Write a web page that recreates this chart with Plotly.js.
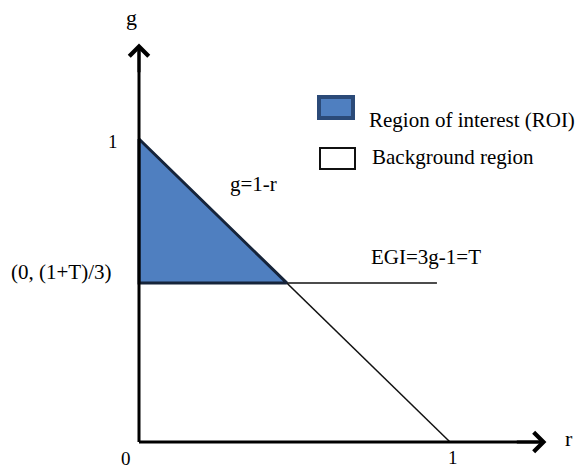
<!DOCTYPE html>
<html><head><meta charset="utf-8">
<script src="https://cdn.plot.ly/plotly-3.0.1.min.js"></script>
<style>html,body{margin:0;padding:0;background:#fff}#plot{width:584px;height:468px}</style>
</head><body><div id="plot"></div>
<script>
// data
var roiR = [0, 0, 0.475, 0];
var roiG = [1, 0.525, 0.525, 1];
var boundaryR = [0, 1];
var boundaryG = [1, 0];
var thresholdR = [0, 0.958];
var thresholdG = [0.525, 0.525];
var axisEnd = {r: 1.31, g: 1.315};
var legendLabels = ["Region of interest (ROI)", "Background region"];
var F = "Liberation Serif, Times New Roman, serif";

var traces = [
  {x: boundaryR, y: boundaryG, mode: 'lines', line: {color: '#111', width: 1.5}, hoverinfo: 'skip'},
  {x: thresholdR, y: thresholdG, mode: 'lines', line: {color: '#111', width: 1.5}, hoverinfo: 'skip'},
  {x: roiR, y: roiG, mode: 'lines', fill: 'toself', fillcolor: '#4F7FC0', line: {color: '#16243a', width: 3}, hoverinfo: 'skip'},
  {x: [0, axisEnd.r - 0.01], y: [0, 0], mode: 'lines', line: {color: '#000', width: 3}, hoverinfo: 'skip'},
  {x: [0, 0], y: [0, axisEnd.g - 0.01], mode: 'lines', line: {color: '#000', width: 3}, hoverinfo: 'skip'}
];

var ann = [
  {x: axisEnd.r, y: 0, ax: axisEnd.r - 0.1, ay: 0, axref: 'x', ayref: 'y', xref: 'x', yref: 'y', showarrow: true, arrowhead: 4, arrowsize: 1.25, arrowwidth: 3, arrowcolor: '#000', text: ''},
  {x: 0, y: axisEnd.g, ax: 0, ay: axisEnd.g - 0.1, axref: 'x', ayref: 'y', xref: 'x', yref: 'y', showarrow: true, arrowhead: 4, arrowsize: 1.25, arrowwidth: 3, arrowcolor: '#000', text: ''},
  {x: 1.383, y: 0.013, text: 'r', showarrow: false, font: {family: F, size: 22, color: '#000'}},
  {x: -0.023, y: 1.40, text: 'g', showarrow: false, font: {family: F, size: 22, color: '#000'}},
  {x: -0.042, y: -0.053, text: '0', showarrow: false, font: {family: F, size: 19, color: '#000'}},
  {x: 1.01, y: -0.05, text: '1', showarrow: false, font: {family: F, size: 19, color: '#000'}},
  {x: -0.083, y: 0.993, text: '1', showarrow: false, font: {family: F, size: 19, color: '#000'}},
  {x: -0.0836, y: 0.56, text: '(0, (1+T)/3)', showarrow: false, xanchor: 'right', font: {family: F, size: 21, color: '#000'}},
  {x: 0.286, y: 0.85, text: 'g=1-r', showarrow: false, xanchor: 'left', font: {family: F, size: 21, color: '#000'}},
  {x: 0.74, y: 0.61, text: 'EGI=3g-1=T', showarrow: false, xanchor: 'left', font: {family: F, size: 21, color: '#000'}},
  {x: 367, y: 106, xref: 'paper', yref: 'paper', text: legendLabels[0], showarrow: false, xanchor: 'left', font: {family: F, size: 21, color: '#000'}},
  {x: 370, y: 157, xref: 'paper', yref: 'paper', text: legendLabels[1], showarrow: false, xanchor: 'left', font: {family: F, size: 21, color: '#000'}}
];
// convert legend pixel positions to paper coords
ann.forEach(function(a){ if (a.xref === 'paper') { a.x = a.x / 584; a.y = 1 - a.y / 468; } });

var shapes = [
  {type: 'rect', xref: 'paper', yref: 'paper', x0: 319/584, x1: 353/584, y0: 1 - 118/468, y1: 1 - 97/468, fillcolor: '#4F7FC0', line: {color: '#2B4A78', width: 4}},
  {type: 'rect', xref: 'paper', yref: 'paper', x0: 320/584, x1: 355/584, y0: 1 - 169/468, y1: 1 - 148/468, fillcolor: '#fff', line: {color: '#111', width: 2}}
];

var layout = {
  width: 584, height: 468,
  margin: {l: 0, r: 0, t: 0, b: 0},
  paper_bgcolor: '#fff', plot_bgcolor: '#fff',
  showlegend: false,
  xaxis: {range: [-139/311, 445/311], visible: false, fixedrange: true},
  yaxis: {range: [-26/303, 442/303], visible: false, fixedrange: true},
  annotations: ann,
  shapes: shapes
};
Plotly.newPlot('plot', traces, layout, {displayModeBar: false, staticPlot: true});
</script>
</body></html>
